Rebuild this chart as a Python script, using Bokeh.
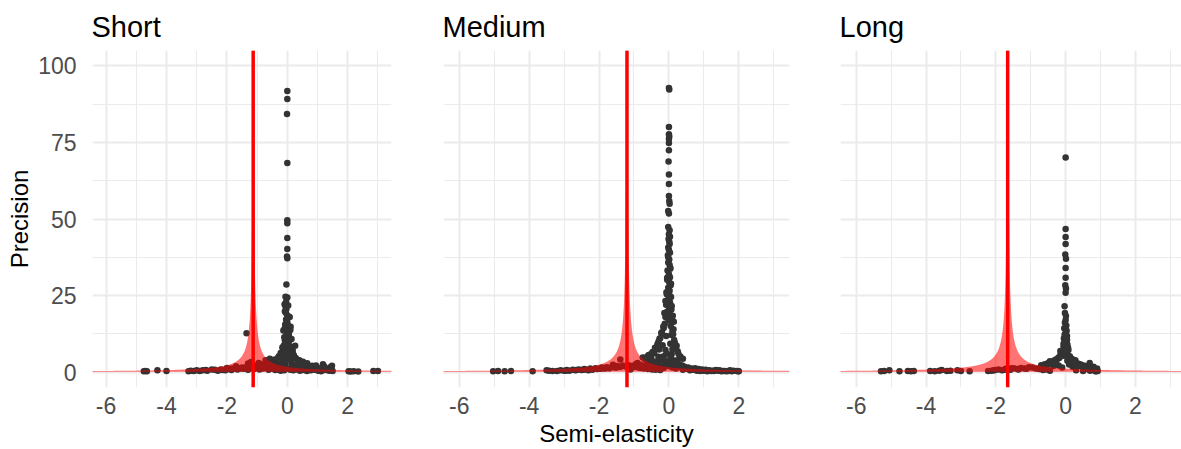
import numpy as np
from bokeh.plotting import figure
from bokeh.layouts import row
from bokeh.models import Span, FixedTicker, Range1d
from bokeh.embed import file_html
from bokeh.resources import INLINE

# ---------------- data ----------------
panel_titles = ["Short", "Medium", "Long"]
mean_effect = [-1.13, -1.20, -1.66]
x_ticks = [-6, -4, -2, 0, 2]
x_tick_labels = ["-6", "-4", "-2", "0", "2"]
x_minor = [-5, -3, -1, 1, 3]
y_ticks = [0, 25, 50, 75, 100]
y_tick_labels = ["0", "25", "50", "75", "100"]
y_minor = [12.5, 37.5, 62.5, 87.5]

short_x = [0.00, 0.00, -0.01, 0.00, 0.00, 0.00, 0.00, 0.00, -0.01, 0.00, -0.03, -0.06, 0.00, -0.09,
           -0.06, -0.03, -0.05, 0.00, -0.04, 0.00, -0.07, 0.03, -0.09, 0.10, 0.00, 0.05, -0.05, 0.01,
           -0.08, 0.06, 0.00, -0.11, 0.12, 0.26, -0.15, 0.04, 0.18, -0.03, -0.22, 0.09, 0.21, -0.28,
           -0.02, -0.12, 0.07, -0.42, -0.58, -0.72, 0.34, 0.48, -0.18, 0.14, -0.06, 0.58, 0.82, 1.18,
           1.48, 1.42, 0.98, 0.88, -0.88, -1.02, -0.84, -1.12, -1.35,
           -4.75, -4.70, -4.65, -4.30, -4.00, -3.27, -3.20, -3.10, -3.00, -2.90, -2.70, -2.65, -2.40,
           -2.30, -2.20, -2.05, -1.95, -1.85, -1.75, -1.65, -1.55, -1.45, -1.38, -1.30, -1.22, -1.10,
           -1.00, -0.92, -0.80, -0.70, -0.62, -0.50, -0.40, -0.32, -0.22, -0.10, 0.10, 0.20, 0.32,
           0.42, 0.55, 0.65, 0.78, 0.90, 1.02, 1.12, 1.25, 1.38, 1.50, 2.03, 2.10, 2.20, 2.35, 2.85,
           3.00, -1.30, -1.20, -0.95, -0.75, -0.60, -0.50, -0.35, -0.65, -1.50, -1.70, -2.00, 0.30,
           0.45, 0.62, 0.70, 0.25, 0.38, -0.25, -0.15, 0.05, 0.15, 1.05, 1.30,
           -0.04, 0.03, -0.08, 0.08, -0.02, 0.11, -0.13, 0.05, -0.10, 0.14, -0.05, 0.02, -0.16, 0.09,
           0.16, -0.20, 0.22, -0.30, 0.28, -0.36, 0.40, -0.48, 0.52, -0.55, 0.66, 0.74, 0.95, 1.10,
           1.22, 1.35, 1.45, -0.40, -0.25, -0.10, 0.12, 0.30, -0.80, -1.05, -1.42, -1.60, -1.85,
           -2.15, -2.50, -2.80]
short_y = [91.8, 89.2, 84.3, 68.3, 49.6, 48.6, 43.8, 40.2, 37.8, 37.2, 28.6, 24.6, 24.4, 22.2,
           21.4, 20.6, 19.4, 18.6, 17.2, 16.4, 15.6, 15.2, 14.2, 13.8, 13.2, 12.4, 11.7, 11.0,
           10.4, 10.1, 9.4, 8.8, 8.3, 8.6, 7.8, 7.4, 7.0, 6.7, 6.3, 6.0, 5.6, 5.2,
           5.0, 4.6, 4.3, 4.1, 4.4, 3.9, 3.6, 3.3, 3.1, 2.9, 2.6, 2.6, 2.1, 2.6,
           2.1, 1.6, 1.6, 1.3, 2.6, 2.1, 1.6, 1.9, 12.7,
           0.3, 0.4, 0.3, 0.6, 0.4, 0.3, 0.5, 0.4, 0.6, 0.4, 0.7, 0.5, 0.8,
           0.5, 0.9, 0.6, 1.0, 0.7, 1.2, 0.9, 1.3, 1.1, 1.6, 0.8, 1.4, 1.0,
           1.8, 0.9, 1.2, 1.5, 0.8, 1.1, 0.7, 0.9, 0.5, 0.6, 0.8, 0.6, 0.9,
           0.5, 0.7, 0.4, 0.6, 0.8, 0.5, 0.3, 0.7, 0.5, 0.4, 0.3, 0.2, 0.3, 0.2, 0.4,
           0.4, 2.8, 3.3, 3.0, 2.6, 3.4, 2.2, 1.8, 1.4, 1.5, 1.9, 1.4, 1.0,
           1.3, 0.9, 1.1, 2.0, 1.7, 1.2, 2.4, 1.1, 1.5, 1.0, 0.9,
           23.0, 21.8, 19.9, 18.0, 16.9, 14.8, 13.6, 12.0, 11.4, 10.8, 9.8, 9.0, 8.1, 7.6,
           6.4, 5.8, 5.4, 4.8, 4.6, 3.6, 3.9, 3.0, 3.4, 2.4, 2.9, 1.8, 2.2, 1.2,
           1.9, 0.8, 1.2, 2.4, 2.0, 3.8, 4.0, 2.2, 1.6, 1.9, 1.3, 1.1, 1.2,
           0.7, 0.9, 0.6]

medium_x = [0.00, 0.01, 0.00, 0.00, 0.01, 0.00, 0.00, 0.00, -0.01, 0.00, 0.00, 0.00, 0.01, 0.02,
            -0.02, 0.00, -0.02, 0.02, 0.00, 0.03, -0.01, 0.01, 0.02, -0.02, 0.00, 0.03, -0.03, 0.01,
            -0.02, 0.02, 0.04, -0.04, 0.00, 0.03, -0.05, 0.01, 0.05, -0.02, 0.02, -0.06, 0.06, -0.03,
            0.03, -0.08, 0.00, 0.07, -0.05, 0.03, -0.10, 0.09, 0.14, -0.12, 0.05, -0.15, 0.10, -0.20,
            0.12, -0.08, -0.25, 0.15, -0.30, 0.04, -0.18, 0.20, -0.38, -0.10, 0.25, -0.45, 0.08, -0.55,
            -0.30, 0.30, -0.62, 0.18,
            -0.75, -0.68, -0.58, -0.50, -0.42, -0.35, -0.28, -0.22, -0.15, -0.06, 0.06, 0.12, 0.22,
            0.30, 0.38, 0.45, 0.55, 0.65, 0.75, 0.85, 0.95, 1.05, 1.15, 1.25, 1.35, 1.55, 1.75, 1.85,
            1.95, 2.00, -0.90, -0.80, -0.62, -0.45, -0.30, -0.12, 0.00, 0.10, 0.20, 0.40, 0.60, 0.80,
            -0.52, -0.40, -0.18, 0.16, 0.26, -0.08, -0.65, 0.35, 0.50, 0.70, 1.00, 1.20, 1.45, 1.65,
            -5.03, -4.89, -4.70, -4.52, -3.90, -3.43, -3.33, -3.10, -3.00, -2.92, -2.85, -2.75, -2.68,
            -2.58, -2.50, -2.42, -2.35, -2.25, -2.18, -2.10, -2.00, -1.92, -1.85, -1.78, -1.70, -1.62,
            -1.55, -1.48, -1.40, -1.32, -1.25, -1.15, -1.05, -0.98, -0.90, -0.82, -0.72, -0.60, -0.48,
            -0.38, -0.25, -1.39, -1.60, -1.80, -2.30, -2.05, -1.10, -0.95, -0.70, 0.90, 1.10, 1.30,
            1.50, 1.60, 1.80, 1.98,
            -0.02, 0.04, -0.05, 0.06, -0.07, 0.03, -0.10, 0.08, -0.13, 0.11, -0.04, 0.02, -0.16, 0.13,
            -0.22, 0.07, -0.27, 0.17, -0.33, 0.22, -0.40, 0.10, -0.47, 0.27, -0.53, -0.60, 0.33, -0.70,
            0.40, -0.20, 0.00, 0.15, -0.35, 0.05, -0.12, 0.24, -0.44, -0.25, 0.36, 0.48, 0.58, 0.68,
            -0.85, -1.00, -1.25, -1.50, -1.70, -1.95, -2.20, -2.45, -2.65, -0.55, -0.15, 0.62, 0.88,
            1.08, 1.28, 1.40, 1.70, -3.20, -2.95, -3.50]
medium_y = [92.8, 92.3, 80.0, 77.7, 76.9, 76.1, 74.8, 72.4, 68.8, 64.5, 61.4, 57.5, 55.9, 55.0,
            52.6, 51.8, 47.4, 46.3, 45.0, 44.2, 43.5, 42.6, 41.8, 40.7, 39.9, 39.0, 38.2, 36.8,
            35.8, 35.0, 34.1, 33.2, 32.0, 31.0, 30.2, 29.3, 28.4, 27.6, 26.6, 25.4, 24.5, 23.6,
            22.8, 22.0, 21.3, 20.5, 19.7, 18.8, 18.0, 17.2, 16.5, 15.8, 15.1, 14.4, 13.6, 13.0,
            12.4, 11.8, 11.1, 10.5, 9.9, 9.3, 8.8, 8.2, 7.7, 7.2, 6.8, 6.3, 5.9, 5.5,
            5.0, 4.6, 4.2, 3.8,
            4.8, 4.2, 5.6, 4.4, 6.2, 3.5, 7.4, 4.0, 5.2, 6.0, 4.8, 3.6, 3.0,
            2.6, 2.2, 1.8, 1.5, 1.2, 1.3, 1.0, 0.9, 0.8, 0.6, 0.5, 0.7, 0.4, 0.6, 0.5,
            0.4, 0.3, 3.0, 2.4, 2.8, 2.0, 2.4, 2.8, 2.0, 1.5, 1.2, 0.8, 0.6, 0.5,
            3.2, 2.7, 3.9, 2.3, 1.9, 3.3, 1.7, 1.6, 1.1, 0.9, 0.5, 0.4, 0.6, 0.3,
            0.3, 0.4, 0.3, 0.4, 0.3, 0.5, 0.4, 0.6, 0.5, 0.7, 0.5, 0.8, 0.6,
            0.9, 0.7, 1.0, 0.8, 1.2, 0.9, 1.3, 1.1, 1.5, 1.2, 1.6, 1.4, 1.8,
            1.5, 2.0, 1.7, 2.2, 1.9, 2.3, 2.0, 1.8, 1.6, 1.4, 1.2, 1.0, 0.9,
            0.8, 0.7, 4.1, 2.4, 1.3, 0.6, 1.0, 0.9, 2.6, 1.6, 0.4, 0.3, 0.5,
            0.3, 0.4, 0.3, 0.3,
            37.5, 33.8, 30.8, 28.9, 26.1, 24.9, 23.2, 21.6, 19.3, 18.4, 17.7, 16.9, 14.9, 14.0,
            12.8, 12.1, 10.9, 9.6, 9.1, 8.6, 8.0, 7.5, 6.6, 6.1, 5.8, 5.3, 5.1, 4.7,
            4.4, 4.5, 3.9, 3.2, 3.1, 2.5, 2.2, 2.0, 2.6, 1.7, 1.6, 1.4, 1.1, 0.9,
            1.6, 1.7, 1.9, 1.5, 1.3, 1.1, 0.9, 0.8, 0.7, 1.2, 1.4, 0.8, 0.7,
            0.5, 0.4, 0.5, 0.4, 0.4, 0.5, 0.6]

long_x = [0.00, 0.00, 0.00, 0.00, -0.01, 0.01, 0.00, 0.00, -0.01, 0.01, 0.00, -0.03, -0.02, 0.01,
          0.00, -0.02, 0.02, -0.04, 0.03, -0.01, 0.04, -0.05, 0.02, -0.03, 0.05, -0.06, 0.00, 0.08,
          -0.10, 0.03, -0.15, 0.12, -0.20, 0.18, -0.30, 0.05, -0.40, 0.25, -0.50, 0.35, -0.60, 0.45,
          -0.70, 0.55, 0.69, 0.80, 0.90, 0.90, -0.35, -0.20, 0.10, 0.20, -0.10, 0.30, 0.60, 0.75,
          -0.45, -0.25, 0.15, 0.40, -0.55, 0.50, -0.05, 0.28,
          -5.29, -5.20, -5.05, -4.76, -4.52, -4.43, -4.35, -3.88, -3.75, -3.62, -3.55, -3.40, -3.30,
          -3.10, -3.00, -2.75, -2.22, -2.12, -2.02, -1.92, -1.82, -1.72, -1.58, -1.48, -1.38, -1.28,
          -1.18, -1.05, -0.76, -0.65, -0.55, -0.45, 0.30, 0.50, 0.70, 0.85, 0.92,
          -0.03, 0.04, -0.06, 0.07, -0.09, 0.02, -0.12, 0.10, -0.18, 0.14, -0.24, 0.20, -0.32, 0.26,
          -0.38, 0.32, -0.48, 0.42, -0.58, 0.52, -0.66, 0.62, 0.72, 0.82, -0.15, 0.08, 0.36, -0.28,
          -0.85, -0.95, -1.12, -1.35, -1.55, -1.75, -2.05, 0.88]
long_y = [70.1, 46.7, 44.1, 41.8, 38.4, 37.0, 34.0, 30.8, 28.4, 27.3, 25.9, 21.5, 19.3, 18.3,
          17.0, 16.1, 15.2, 14.3, 13.5, 12.6, 11.8, 11.0, 10.2, 9.6, 9.0, 8.4, 7.8, 7.2,
          6.6, 6.1, 5.6, 5.2, 4.8, 4.4, 4.0, 3.7, 3.4, 3.2, 3.0, 2.8, 2.6, 2.4,
          2.3, 2.1, 3.0, 1.8, 1.2, 0.6, 2.0, 2.2, 2.5, 1.8, 1.5, 1.4, 1.0, 0.8,
          3.6, 4.2, 3.3, 2.6, 1.6, 1.9, 5.4, 3.9,
          0.3, 0.4, 0.6, 0.3, 0.4, 0.3, 0.4, 0.4, 0.3, 0.5, 0.7, 0.4, 0.5,
          0.6, 0.4, 0.3, 0.4, 0.5, 0.7, 0.9, 0.6, 1.1, 0.8, 1.3, 1.0, 1.4,
          1.2, 1.6, 1.0, 0.7, 0.9, 0.5, 0.6, 0.4, 0.5, 0.3, 0.4,
          12.2, 10.6, 9.3, 8.0, 7.0, 6.4, 5.9, 5.0, 4.6, 4.1, 4.4, 3.6, 3.8, 3.0,
          2.9, 2.4, 2.7, 2.0, 2.2, 1.6, 1.8, 1.3, 1.0, 0.9, 6.9, 4.9, 2.2, 3.1,
          1.2, 1.5, 1.1, 0.9, 1.3, 0.8, 0.6, 0.3]

xs_all = [short_x, medium_x, long_x]
ys_all = [short_y, medium_y, long_y]

# ---------------- layout ----------------
FONT = "Liberation Sans"
frame_w = [299, 346, 341]
left_b = [92, 49, 50]
right_b = [3, 1, 0]
x_start = -6.45
x_end = [3.45, 3.45, 3.32]
y_start, y_end = -5, 105

figs = []
for i in range(3):
    p = figure(frame_width=frame_w[i], frame_height=337,
               min_border_left=left_b[i], min_border_right=right_b[i],
               min_border_top=50, min_border_bottom=62,
               x_range=Range1d(x_start, x_end[i]), y_range=Range1d(y_start, y_end),
               output_backend="svg", toolbar_location=None,
               title=panel_titles[i])
    p.title.text_font = FONT
    p.title.text_font_size = "29px"
    p.title.text_font_style = "normal"
    p.title.text_color = "black"
    p.title.align = "left"
    p.title.offset = -1
    p.title.standoff = 16
    p.outline_line_color = None
    p.background_fill_color = "white"
    p.border_fill_color = "white"

    p.xaxis.ticker = FixedTicker(ticks=x_ticks, minor_ticks=x_minor)
    p.yaxis.ticker = FixedTicker(ticks=y_ticks, minor_ticks=y_minor)
    p.xaxis.major_label_overrides = {t: s for t, s in zip(x_ticks, x_tick_labels)}
    p.yaxis.major_label_overrides = {t: s for t, s in zip(y_ticks, y_tick_labels)}
    for ax in (p.xaxis[0], p.yaxis[0]):
        ax.axis_line_color = None
        ax.major_tick_line_color = None
        ax.minor_tick_line_color = None
        ax.major_label_text_font = FONT
        ax.major_label_text_font_size = "23px"
        ax.major_label_text_color = "#4D4D4D"
        ax.axis_label_text_font = FONT
        ax.axis_label_text_font_size = "24px"
        ax.axis_label_text_font_style = "normal"
        ax.axis_label_text_color = "black"
    p.xaxis.major_label_standoff = 3
    p.yaxis.major_label_standoff = 10
    if i == 0:
        p.yaxis.axis_label = "Precision"
        p.yaxis.axis_label_standoff = 2
    else:
        p.yaxis.visible = False
    if i == 1:
        p.xaxis.axis_label = "Semi-elasticity"
        p.xaxis.axis_label_standoff = 3

    for g in (p.xgrid[0], p.ygrid[0]):
        g.grid_line_color = "#EBEBEB"
        g.grid_line_width = 2
        g.minor_grid_line_color = "#EBEBEB"
        g.minor_grid_line_width = 1.1

    p.scatter(xs_all[i], ys_all[i], size=6.5, color="#333333", line_color=None)

    mu = mean_effect[i]
    prec = np.geomspace(0.12, 110, 500)
    fx = np.concatenate([mu - 1.96 / prec, (mu + 1.96 / prec)[::-1]])
    fy = np.concatenate([prec, prec[::-1]])
    p.patch(fx, fy, fill_color="red", fill_alpha=0.55, line_color=None)

    p.add_layout(Span(location=mu, dimension="height", line_color="red", line_width=3.5))
    figs.append(p)

layout = row(*figs)
open("out.html", "w").write(file_html(layout, INLINE))
